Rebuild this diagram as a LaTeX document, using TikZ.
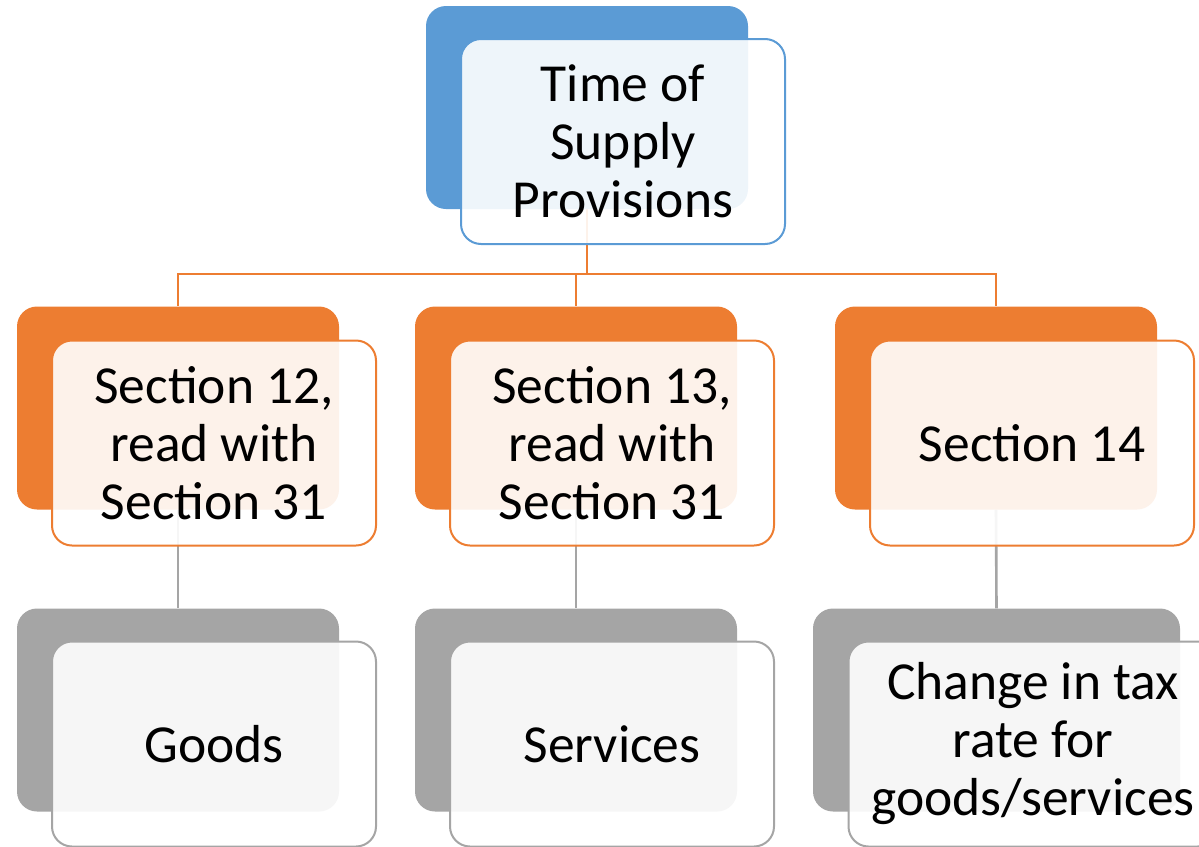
\documentclass[tikz,border=0pt]{standalone}
\usepackage{fontspec}
\setmainfont{Carlito}
\usetikzlibrary{backgrounds}
\definecolor{cblue}{HTML}{5B9BD5}
\definecolor{corange}{HTML}{ED7D31}
\definecolor{cgray}{HTML}{A5A5A5}
\tikzset{
  backbox/.style={draw=none, fill=#1, rounded corners=20pt, inner sep=0pt,
    minimum width=322pt, minimum height=203pt},
  frontbox/.style={draw=#1, line width=2pt, fill=white, fill opacity=0.9,
    text opacity=1, rounded corners=20pt, inner sep=0pt, align=center,
    minimum width=324pt, minimum height=205pt,
    font=\fontsize{53.5}{58}\selectfont},
  link/.style={draw=#1, line width=2.6pt}
}
\begin{document}
\begin{tikzpicture}[x=1pt, y=-1pt]
\useasboundingbox (0,0) rectangle (1199,846);

% top level
\node[backbox=cblue] (tb) at (587,107.5) {};
\node[frontbox=cblue] (tf) at (623,141.5) {Time of\\Supply\\Provisions};

% second level
\node[backbox=corange] (ob1) at (178,408) {};
\node[frontbox=corange] (of1) at (214,443) {Section 12,\\read with\\Section 31};
\node[backbox=corange] (ob2) at (576,408) {};
\node[frontbox=corange] (of2) at (612,443) {Section 13,\\read with\\Section 31};
\node[backbox=corange] (ob3) at (996,408) {};
\node[frontbox=corange] (of3) at (1032,443) {Section 14};

% third level
\node[backbox=cgray] (gb1) at (178,710) {};
\node[frontbox=cgray] (gf1) at (214,744) {Goods};
\node[backbox=cgray] (gb2) at (576,710) {};
\node[frontbox=cgray] (gf2) at (612,744) {Services};
\node[backbox=cgray, minimum width=367pt] (gb3) at (996.5,710) {};
\node[frontbox=cgray, minimum width=369pt] (gf3) at (1033,744)
  {Change in tax\\rate for\\goods/services};

% connectors
\coordinate (bus) at (0,274);
\begin{scope}[on background layer]
  \draw[link=corange] (tb.south) -- (tb.south |- bus) -| (ob1.north);
  \draw[link=corange] (tb.south |- bus) -| (ob2.north);
  \draw[link=corange] (tb.south |- bus) -| (ob3.north);
  \draw[link=cgray] (ob1.south) -- (gb1.north);
  \draw[link=cgray] (ob2.south) -- (gb2.north);
  \draw[link=cgray] (ob3.south) -- (gb3.north);
\end{scope}
\end{tikzpicture}
\end{document}
